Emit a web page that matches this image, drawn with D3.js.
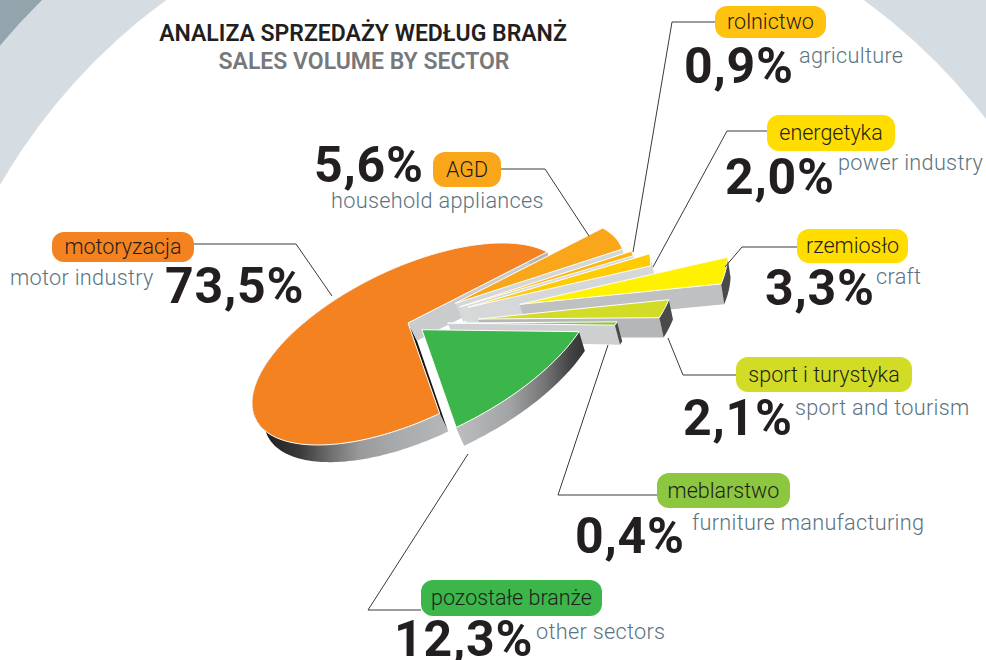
<!DOCTYPE html>
<html><head><meta charset="utf-8">
<script src="https://cdn.jsdelivr.net/npm/d3@7"></script>
<style>html,body{margin:0;padding:0;background:#fff}svg{display:block}text{font-family:Roboto,sans-serif}</style>
</head><body><div id="c"></div>
<script>
// ---- data (clockwise pie order) ----
const sectorsPl = ["AGD","rolnictwo","energetyka","rzemiosło","sport i turystyka","meblarstwo","pozostałe branże","motoryzacja"];
const sectorsEn = ["household appliances","agriculture","power industry","craft","sport and tourism","furniture manufacturing","other sectors","motor industry"];
const shares = [5.6,0.9,2.0,3.3,2.1,0.4,12.3,73.5];
const titlePl = "ANALIZA SPRZEDAŻY WEDŁUG BRANŻ";
const titleEn = "SALES VOLUME BY SECTOR";

// ---- styling ----
const topColors  = ["#faa61a","#ffb612","#ffcb05","#fff200","#d2dc26","#8dc63f","#3cb54a","#f58220"];
const pillColors = ["#faa61a","#ffc20e","#ffdd00","#ffdd00","#d2dc26","#8dc63f","#3cb54a","#f58220"];
const wallColors = ["#d6d7d9","#d8d9da","#d6d7d9","#bfc0c2","#b5b6b8","#cdcfd1","#b9bbbd","#c9cbcd"];
const rimColors  = ["#d6d7d9","#d8d9da","#d6d7d9","#4a4a4a","#4a4a4a","#4a4a4a",null,null];
const explode = [0.30,0.33,0.39,0.76,0.52,0.31,0.17,0];
const reach   = [1.06,1.09,1.14,1.30,1.23,1.15,1.08,1];

// ---- label layout: pill box, number anchor, english anchor, leader path ----
const pillBox = [[433,152,68,35],[715,6,111,32],[767,115,128,36],[797,229,111,34],[736,357,176,35],[657,473,133,35],[421,580,181,36],[52,232,142,30]];
const pctPos  = [[314,182],[684,83],[725,194],[765,305],[683,435],[575,553],[394,656],[165,303]];
const enPos   = [[331,208],[799,63],[838,170],[876,284],[795,415],[692,530],[536,639],[10,285]];
const leaders = [
 [[501,169],[545,169],[589,236]],
 [[715,22],[672,22],[633,252]],
 [[767,131],[727,131],[653,267]],
 [[797,247],[742,247],[725,267]],
 [[736,375],[683,375],[668,338]],
 [[657,495],[558,495],[608,345]],
 [[421,610],[368,610],[468,454]],
 [[194,244],[296,244],[332,296]]];

const W=986,H=660;
const svg=d3.select("#c").append("svg").attr("width",W).attr("height",H);
const defs=svg.append("defs");
function grad(id,stops){
  const g=defs.append("linearGradient").attr("id",id).attr("gradientUnits","userSpaceOnUse")
    .attr("x1",stops[0][0]).attr("x2",stops[stops.length-1][0]).attr("y1",0).attr("y2",0);
  const sx=d3.scaleLinear().domain([stops[0][0],stops[stops.length-1][0]]).range([0,1]);
  stops.forEach(s=>g.append("stop").attr("offset",sx(s[0])).attr("stop-color",s[1]));
}
grad("rimMoto",[[262,"#1c1c1c"],[300,"#3a3a3a"],[330,"#6e6e6e"],[360,"#9a9a9c"],[400,"#a9acae"],[448,"#b5b7b9"]]);
grad("rimOther",[[458,"#bbbdbf"],[510,"#a2a3a5"],[545,"#757575"],[570,"#444"],[590,"#2c2c2c"]]);

// background rings
svg.append("rect").attr("width",W).attr("height",H).attr("fill","#94a4ac");
svg.append("circle").attr("cx",515).attr("cy",481).attr("r",674.5).attr("fill","#d5dce2");
svg.append("circle").attr("cx",515).attr("cy",481).attr("r",594).attr("fill","#fff");

// pie geometry: the flat pie is mapped to screen with a linear tilt
const pieGen=d3.pie().sort(null).value(d=>d).startAngle(-14.8*Math.PI/180+Math.PI/2).endAngle(-14.8*Math.PI/180+Math.PI/2+2*Math.PI);
const arcs=pieGen(shares);
const toUV=a=>a-Math.PI/2;           // d3 angle (0 = north) -> flat angle (0 = east)
const tilt=(u,v)=>[158*u, -59*u+82*v];
const base=[408,323];
const P=[-0.0127,-0.265];            // apex relative to the rim centre
function rimT(th){
  const d=[Math.cos(th),Math.sin(th)], pd=P[0]*d[0]+P[1]*d[1], pp=P[0]*P[0]+P[1]*P[1];
  return -pd+Math.sqrt(pd*pd+1-pp);
}
const depthX=d3.scaleLinear().domain([460,727]).range([8,3]);
const depthY=d3.scaleLinear().domain([300,727]).range([17,20.4]);
const drop=p=>[p[0]+depthX(p[0]),p[1]+depthY(p[0])];
const line=d3.line().x(d=>d[0]).y(d=>d[1]);
const closed=pts=>line(pts)+"Z";

const order=[7,0,1,2,3,4,5,6];
const pieG=svg.append("g");
order.forEach(i=>{
  const a0=toUV(arcs[i].startAngle),a1=toUV(arcs[i].endAngle),mid=(a0+a1)/2;
  const ex=tilt(Math.cos(mid),Math.sin(mid));
  const apex=[base[0]+explode[i]*ex[0],base[1]+explode[i]*ex[1]];
  const n=Math.max(3,Math.ceil((a1-a0)/(Math.PI/180)));
  const rim=d3.range(n+1).map(k=>{
    const th=a0+(a1-a0)*k/n,t=reach[i]*rimT(th),q=tilt(t*Math.cos(th),t*Math.sin(th));
    return [apex[0]+q[0],apex[1]+q[1]];
  });
  const first=rim[0],last=rim[rim.length-1];
  const g=pieG.append("g");
  // cut faces
  g.append("path").attr("d",closed([apex,first,drop(first),drop(apex)])).attr("fill",i===7?"#161616":wallColors[i]);
  g.append("path").attr("d",closed([apex,last,drop(last),drop(apex)])).attr("fill",wallColors[i]);
  // rim face
  const rimFill=i===7?"url(#rimMoto)":i===6?"url(#rimOther)":rimColors[i];
  g.append("path").attr("d",closed(rim.concat(rim.map(drop).reverse()))).attr("fill",rimFill);
  // top face
  g.append("path").attr("d",closed([apex].concat(rim))).attr("fill",topColors[i]).attr("stroke","#fff").attr("stroke-width",1);
});

// leaders
const lab=svg.append("g");
leaders.forEach(l=>lab.append("path").attr("d",line(l)).attr("fill","none").attr("stroke","#3a3a3a").attr("stroke-width",1));

// pills, names, percentages
const fmt=d3.format(".1f");
sectorsPl.forEach((s,i)=>{
  const b=pillBox[i];
  lab.append("rect").attr("x",b[0]).attr("y",b[1]).attr("width",b[2]).attr("height",b[3]).attr("rx",12).attr("fill",pillColors[i]);
  lab.append("text").attr("x",b[0]+b[2]/2).attr("y",b[1]+b[3]/2+7).attr("text-anchor","middle")
    .attr("font-size",21.5).attr("font-weight",300).attr("fill","#1f1e1d").text(s);
  lab.append("text").attr("x",pctPos[i][0]).attr("y",pctPos[i][1]).attr("font-size",50).attr("font-weight",700)
    .attr("fill","#231f20").attr("letter-spacing",0.8).text(fmt(shares[i]).replace(".",",")+"%");
  lab.append("text").attr("x",enPos[i][0]).attr("y",enPos[i][1]).attr("font-size",21.7).attr("font-weight",300)
    .attr("fill","#5a7382").attr("letter-spacing",0.3).text(sectorsEn[i]);
});
svg.append("text").attr("x",363).attr("y",41).attr("text-anchor","middle").attr("font-size",23).attr("font-weight",600).attr("fill","#231f20").text(titlePl);
svg.append("text").attr("x",364).attr("y",69).attr("text-anchor","middle").attr("font-size",23).attr("font-weight",600).attr("fill","#77787b").text(titleEn);
</script></body></html>
